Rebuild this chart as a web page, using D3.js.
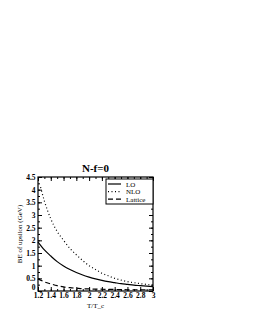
<!DOCTYPE html>
<html>
<head>
<meta charset="UTF-8">
<script src="https://d3js.org/d3.v7.min.js"></script>
<style>
  body { margin: 0; background: #fff; }
  svg text { font-family: "Liberation Serif", "DejaVu Serif", serif; fill: #000; }
</style>
</head>
<body>
<svg width="255" height="330"></svg>
<script>
// values
const loT = [1.2, 1.3, 1.4, 1.5, 1.6, 1.7, 1.8, 1.9, 2.0, 2.1, 2.2, 2.3, 2.4, 2.5, 2.6, 2.7, 2.8, 2.9, 3.0];
const loBE = [1.93, 1.62, 1.38, 1.16, 0.99, 0.85, 0.73, 0.63, 0.55, 0.48, 0.42, 0.37, 0.33, 0.29, 0.26, 0.23, 0.21, 0.19, 0.17];

const nloT = [1.24, 1.3, 1.4, 1.5, 1.6, 1.7, 1.8, 1.9, 2.0, 2.1, 2.2, 2.3, 2.4, 2.5, 2.6, 2.7, 2.8, 2.9, 3.0];
const nloBE = [4.1, 3.55, 2.85, 2.35, 2.0, 1.68, 1.43, 1.2, 1.0, 0.85, 0.7, 0.6, 0.5, 0.43, 0.37, 0.33, 0.29, 0.26, 0.23];

const latT = [1.2, 1.3, 1.4, 1.5, 1.6, 1.7, 1.8, 1.9, 2.0, 2.2, 2.4, 2.6, 2.8, 3.0];
const latBE = [0.48, 0.36, 0.28, 0.21, 0.16, 0.13, 0.11, 0.09, 0.08, 0.07, 0.06, 0.05, 0.05, 0.05];

const xTicks = [1.2, 1.4, 1.6, 1.8, 2, 2.2, 2.4, 2.6, 2.8, 3];
const yTicks = [0, 0.5, 1, 1.5, 2, 2.5, 3, 3.5, 4, 4.5];
const legendNames = ["LO", "NLO", "Lattice"];

const svg = d3.select("svg");
const m = { left: 38, right: 153, top: 177, bottom: 291 };

const x = d3.scaleLinear().domain([1.2, 3]).range([m.left, m.right]);
const y = d3.scaleLinear().domain([0, 4.5]).range([m.bottom, m.top]);

// minor ticks
const xMinor = d3.range(1.2, 3.0001, 0.1).map(v => +v.toFixed(2));
const yMinor = d3.range(0, 4.5001, 0.25).map(v => +v.toFixed(2));

const g = svg.append("g");

// bottom/top axes, ticks pointing inward
function xAxis(pos, dir) {
  g.append("g")
    .attr("transform", `translate(0,${pos})`)
    .call(d3.axisBottom(x).tickValues(xMinor).tickSize(-2 * dir).tickFormat(""))
    .call(a => a.select(".domain").remove());
  const ax = g.append("g")
    .attr("transform", `translate(0,${pos})`)
    .call(d3.axisBottom(x).tickValues(xTicks).tickSize(-4 * dir).tickFormat(dir > 0 ? d3.format("") : ""));
  ax.select(".domain").remove();
  ax.selectAll("text").attr("y", 2).attr("dy", "0.71em")
    .style("font-size", "7.5px").style("font-weight", "bold");
}
xAxis(m.bottom, 1);
xAxis(m.top, -1);

function yAxis(pos, dir) {
  g.append("g")
    .attr("transform", `translate(${pos},0)`)
    .call(d3.axisLeft(y).tickValues(yMinor).tickSize(-2 * dir).tickFormat(""))
    .call(a => a.select(".domain").remove());
  const ax = g.append("g")
    .attr("transform", `translate(${pos},0)`)
    .call(d3.axisLeft(y).tickValues(yTicks).tickSize(-4 * dir).tickFormat(dir > 0 ? d3.format("") : ""));
  ax.select(".domain").remove();
  ax.selectAll("text").attr("x", -2.5).style("font-size", "7.5px").style("font-weight", "bold");
  // lift the "0" so it clears the first x label
  ax.selectAll("text").filter(d => d === 0).attr("dy", "-0.2em");
}
yAxis(m.left, 1);
yAxis(m.right, -1);

g.selectAll(".tick line").attr("stroke", "#000").attr("stroke-width", 1);

// frame
g.append("rect")
  .attr("x", m.left).attr("y", m.top)
  .attr("width", m.right - m.left).attr("height", m.bottom - m.top)
  .attr("fill", "none").attr("stroke", "#000").attr("stroke-width", 1.2);

// curves
const line = d3.line().x(d => x(d[0])).y(d => y(d[1])).curve(d3.curveMonotoneX);
const series = [
  { pts: d3.zip(loT, loBE), dash: null },
  { pts: d3.zip(nloT, nloBE), dash: "1,2.5" },
  { pts: d3.zip(latT, latBE), dash: "5,3" }
];
g.selectAll(".curve")
  .data(series)
  .enter().append("path")
  .attr("class", "curve")
  .attr("d", d => line(d.pts))
  .attr("fill", "none")
  .attr("stroke", "#000")
  .attr("stroke-width", 1.2)
  .attr("stroke-dasharray", d => d.dash);

// legend
const lg = g.append("g");
lg.append("rect")
  .attr("x", 106).attr("y", 179)
  .attr("width", 47).attr("height", 25)
  .attr("fill", "#fff").attr("stroke", "#000").attr("stroke-width", 1);
legendNames.forEach((name, i) => {
  const yy = 184 + i * 7.6;
  lg.append("line")
    .attr("x1", 108).attr("x2", 121).attr("y1", yy).attr("y2", yy)
    .attr("stroke", "#000").attr("stroke-width", 1.2)
    .attr("stroke-dasharray", series[i].dash);
  lg.append("text")
    .attr("x", 126).attr("y", yy + 2.5)
    .style("font-size", "7px")
    .text(name);
});

// title & labels
svg.append("text")
  .attr("x", (m.left + m.right) / 2).attr("y", 172)
  .attr("text-anchor", "middle")
  .style("font-size", "11px").style("font-weight", "bold")
  .text("N-f=0");

svg.append("text")
  .attr("x", (m.left + m.right) / 2).attr("y", 308)
  .attr("text-anchor", "middle")
  .style("font-size", "7px")
  .text("T/T_c");

svg.append("text")
  .attr("transform", `translate(22,${(m.top + m.bottom) / 2}) rotate(-90)`)
  .attr("text-anchor", "middle")
  .style("font-size", "7px")
  .text("BE of upsilon (GeV)");
</script>
</body>
</html>
